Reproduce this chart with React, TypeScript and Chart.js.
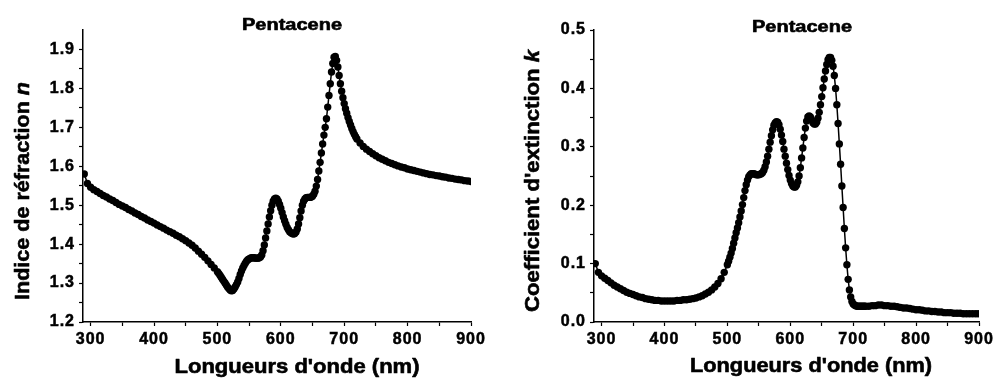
import React, { useEffect, useRef } from "react";
import { Chart, registerables } from "chart.js";

Chart.register(...registerables);

// ---------- data ----------
const WAVELENGTHS_NM = [
  290, 295, 300, 305, 310, 315, 320, 325, 330, 335,
  340, 345, 350, 355, 360, 365, 370, 375, 380, 385,
  390, 395, 400, 405, 410, 415, 420, 425, 430, 435,
  440, 445, 450, 455, 460, 465, 470, 475, 480, 485,
  490, 495, 500,
  502, 504, 506, 508, 510, 512, 514, 516, 518, 520,
  522, 524, 526, 528, 530, 532, 534, 536, 538, 540,
  542, 544, 546, 548, 550, 552, 554, 556, 558, 560,
  562, 564, 566, 568, 570, 572, 574, 576, 578, 580,
  582, 584, 586, 588, 590, 592, 594, 596, 598, 600,
  602, 604, 606, 608, 610, 612, 614, 616, 618, 620,
  622, 624, 626, 628, 630, 632, 634, 636, 638, 640,
  642, 644, 646, 648, 650, 652, 654, 656, 658, 660,
  662, 664, 666, 668, 670, 672, 674, 676, 678, 680,
  682, 684, 686, 688, 690, 692, 694, 696, 698, 700,
  702, 704, 706, 708, 710, 712, 714, 716, 718, 720,
  725, 730, 735, 740, 745, 750, 755, 760, 765, 770,
  775, 780, 785, 790, 795, 800, 805, 810, 815, 820,
  825, 830, 835, 840, 845, 850, 855, 860, 865, 870,
  875, 880, 885, 890, 895, 900,
];

const REFRACTIVE_INDEX_N = [
  1.580, 1.556, 1.546, 1.540, 1.535, 1.530, 1.525, 1.521, 1.516, 1.512,
  1.507, 1.502, 1.498, 1.494, 1.489, 1.485, 1.480, 1.476, 1.471, 1.467,
  1.462, 1.458, 1.454, 1.449, 1.445, 1.441, 1.436, 1.432, 1.428, 1.423,
  1.419, 1.414, 1.409, 1.403, 1.397, 1.390, 1.382, 1.374, 1.366, 1.357,
  1.348, 1.339, 1.329,
  1.325, 1.320, 1.315, 1.310, 1.305, 1.300, 1.295, 1.290, 1.286, 1.282,
  1.280, 1.281, 1.285, 1.290, 1.296, 1.303, 1.312, 1.322, 1.331, 1.339,
  1.345, 1.351, 1.356, 1.360, 1.362, 1.364, 1.365, 1.365, 1.365, 1.364,
  1.364, 1.364, 1.365, 1.367, 1.372, 1.383, 1.398, 1.416, 1.434, 1.452,
  1.470, 1.486, 1.500, 1.510, 1.516, 1.518, 1.516, 1.510, 1.502, 1.492,
  1.481, 1.470, 1.460, 1.451, 1.443, 1.437, 1.432, 1.429, 1.427, 1.426,
  1.427, 1.431, 1.439, 1.452, 1.468, 1.485, 1.500, 1.510, 1.516, 1.519,
  1.520, 1.520, 1.520, 1.521, 1.523, 1.528, 1.536, 1.549, 1.566, 1.588,
  1.610, 1.634, 1.657, 1.680, 1.700, 1.722, 1.752, 1.782, 1.812, 1.842,
  1.864, 1.880, 1.882, 1.872, 1.855, 1.833, 1.812, 1.793, 1.776, 1.761,
  1.748, 1.736, 1.725, 1.715, 1.706, 1.697, 1.689, 1.682, 1.676, 1.670,
  1.660, 1.651, 1.644, 1.638, 1.632, 1.627, 1.622, 1.618, 1.614, 1.610,
  1.607, 1.604, 1.601, 1.598, 1.596, 1.593, 1.591, 1.589, 1.587, 1.585,
  1.583, 1.581, 1.579, 1.578, 1.576, 1.575, 1.573, 1.572, 1.570, 1.569,
  1.567, 1.566, 1.565, 1.563, 1.562, 1.561,
];

const EXTINCTION_K = [
  0.100, 0.085, 0.079, 0.075, 0.071, 0.067, 0.063, 0.060, 0.057, 0.054,
  0.051, 0.049, 0.047, 0.045, 0.043, 0.042, 0.040, 0.039, 0.038, 0.037,
  0.037, 0.036, 0.036, 0.036, 0.036, 0.036, 0.037, 0.037, 0.038, 0.038,
  0.039, 0.040, 0.041, 0.043, 0.045, 0.048, 0.051, 0.055, 0.060, 0.066,
  0.074, 0.085, 0.098,
  0.104, 0.111, 0.118, 0.126, 0.135, 0.144, 0.153, 0.161, 0.170, 0.180,
  0.190, 0.201, 0.213, 0.225, 0.235, 0.243, 0.249, 0.252, 0.254, 0.254,
  0.254, 0.253, 0.252, 0.252, 0.252, 0.253, 0.254, 0.256, 0.260, 0.266,
  0.274, 0.284, 0.296, 0.308, 0.319, 0.329, 0.337, 0.341, 0.343, 0.342,
  0.338, 0.330, 0.320, 0.309, 0.296, 0.284, 0.272, 0.261, 0.251, 0.243,
  0.237, 0.233, 0.231, 0.231, 0.234, 0.240, 0.250, 0.264, 0.281, 0.298,
  0.316, 0.332, 0.344, 0.351, 0.353, 0.351, 0.346, 0.341, 0.339, 0.339,
  0.342, 0.349, 0.359, 0.372, 0.386, 0.401, 0.416, 0.430, 0.441, 0.449,
  0.453, 0.453, 0.448, 0.438, 0.422, 0.400, 0.372, 0.340, 0.305, 0.270,
  0.233, 0.196, 0.160, 0.127, 0.098, 0.073, 0.055, 0.043, 0.035, 0.031,
  0.029, 0.028, 0.027, 0.027, 0.027, 0.027, 0.027, 0.027, 0.027, 0.027,
  0.027, 0.028, 0.028, 0.029, 0.029, 0.028, 0.028, 0.027, 0.027, 0.026,
  0.025, 0.024, 0.024, 0.023, 0.022, 0.021, 0.021, 0.020, 0.019, 0.019,
  0.018, 0.018, 0.017, 0.017, 0.016, 0.016, 0.016, 0.015, 0.015, 0.015,
  0.014, 0.014, 0.014, 0.014, 0.014, 0.014,
];

const X_TICKS = [300, 350, 400, 450, 500, 550, 600, 650, 700, 750, 800, 850, 900];
const N_TICKS = [1.2, 1.25, 1.3, 1.35, 1.4, 1.45, 1.5, 1.55, 1.6, 1.65, 1.7, 1.75, 1.8, 1.85, 1.9];
const K_TICKS = [0, 0.05, 0.1, 0.15, 0.2, 0.25, 0.3, 0.35, 0.4, 0.45, 0.5];

const PANEL_TITLE = "Pentacene";
const X_TITLE = "Longueurs d'onde (nm)";
const N_TITLE = ["Indice de réfraction ", "n"];
const K_TITLE = ["Coefficient d'extinction ", "k"];

// ---------- helpers ----------
const FONT = "'Liberation Sans', Arial, sans-serif";

type Part = { text: string; font: string };

// draws text centred on (cx, cy) baseline, stretched along its direction to a target length
function drawStretched(
  ctx: CanvasRenderingContext2D,
  parts: Part[],
  cx: number,
  cy: number,
  angle: number,
  target: number
) {
  ctx.save();
  (ctx as any).letterSpacing = "0px";
  let natural = 0;
  for (const p of parts) {
    ctx.font = p.font;
    natural += ctx.measureText(p.text).width;
  }
  ctx.translate(cx, cy);
  ctx.rotate(angle);
  ctx.scale(target / natural, 1);
  ctx.textAlign = "left";
  ctx.textBaseline = "alphabetic";
  ctx.fillStyle = "#000";
  ctx.strokeStyle = "#000";
  ctx.lineWidth = 0.6;
  ctx.lineJoin = "round";
  let x = -natural / 2;
  for (const p of parts) {
    ctx.font = p.font;
    ctx.fillText(p.text, x, 0);
    ctx.strokeText(p.text, x, 0);
    x += ctx.measureText(p.text).width;
  }
  ctx.restore();
}

const textPlugin = {
  id: "panelText",
  beforeDraw(chart: any) {
    (chart.ctx as any).letterSpacing = "1px";
  },
  afterDraw(chart: any, _args: any, opts: any) {
    const ctx = chart.ctx as CanvasRenderingContext2D;
    drawStretched(ctx, [{ text: PANEL_TITLE, font: `bold 16px ${FONT}` }], opts.titleX, opts.titleY, 0, opts.titleW);
    drawStretched(ctx, [{ text: X_TITLE, font: `bold 20px ${FONT}` }], opts.xTitleX, opts.xTitleY, 0, opts.xTitleW);
    drawStretched(
      ctx,
      [
        { text: opts.yTitle[0], font: `bold 21px ${FONT}` },
        { text: opts.yTitle[1], font: `italic bold 21px ${FONT}` },
      ],
      opts.yTitleX,
      opts.yTitleY,
      -Math.PI / 2,
      opts.yTitleW
    );
  },
};

type PanelProps = {
  values: number[];
  yMin: number;
  yMax: number;
  yTicks: number[];
  yAxisWidth: number;
  padRight: number;
  text: any;
};

function Panel({ values, yMin, yMax, yTicks, yAxisWidth, padRight, text }: PanelProps) {
  const ref = useRef<HTMLCanvasElement>(null);

  useEffect(() => {
    if (!ref.current) return;
    const points = WAVELENGTHS_NM.map((x, i) => ({ x, y: values[i] }));
    const tickFont = { family: FONT, size: 16, weight: "bold" as const };
    const chart = new Chart(ref.current, {
      type: "line",
      data: {
        datasets: [
          {
            data: points,
            borderColor: "#000",
            borderWidth: 1.5,
            pointRadius: 3.7,
            pointBackgroundColor: "#000",
            pointBorderWidth: 0,
            tension: 0,
          },
        ],
      },
      options: {
        responsive: false,
        animation: false,
        events: [],
        layout: { padding: { top: 30, right: padRight, left: 0, bottom: 0 } },
        plugins: {
          legend: { display: false },
          tooltip: { enabled: false },
          panelText: text,
        } as any,
        scales: {
          x: {
            type: "linear",
            min: 288,
            max: 900,
            afterBuildTicks: (s: any) => {
              s.ticks = X_TICKS.map((v) => ({ value: v }));
            },
            afterFit: (s: any) => {
              s.height = 56;
              s.paddingLeft = 0;
              s.paddingRight = 0;
            },
            grid: { drawOnChartArea: false, drawTicks: true, tickLength: 4, tickColor: "#000", tickWidth: 1.2 },
            border: { display: true, color: "#000", width: 1.5 },
            ticks: {
              color: "#000",
              font: tickFont,
              padding: 4,
              maxRotation: 0,
              autoSkip: false,
              textStrokeColor: "#000",
              textStrokeWidth: 0.5,
              callback: (v: any) => (Math.round(v) % 100 === 0 ? String(Math.round(v)) : ""),
            },
          },
          y: {
            type: "linear",
            min: yMin,
            max: yMax,
            afterBuildTicks: (s: any) => {
              s.ticks = yTicks.map((v) => ({ value: v }));
            },
            afterFit: (s: any) => {
              s.width = yAxisWidth;
              s.paddingTop = 0;
              s.paddingBottom = 0;
            },
            grid: { drawOnChartArea: false, drawTicks: true, tickLength: 4, tickColor: "#000", tickWidth: 1.2 },
            border: { display: true, color: "#000", width: 1.5 },
            ticks: {
              color: "#000",
              font: tickFont,
              padding: 4,
              autoSkip: false,
              textStrokeColor: "#000",
              textStrokeWidth: 0.5,
              callback: (v: any) => (Math.round(v * 20) % 2 === 0 ? Number(v).toFixed(1) : ""),
            },
          },
        },
      },
      plugins: [textPlugin as any],
    });
    return () => chart.destroy();
  }, []);

  return <canvas ref={ref} width={497} height={378} style={{ width: 497, height: 378, display: "block" }} />;
}

export default function App() {
  return (
    <div
      style={{
        position: "fixed",
        left: 0,
        top: 0,
        width: 994,
        height: 378,
        background: "#fff",
        display: "flex",
      }}
    >
      <Panel
        values={REFRACTIVE_INDEX_N}
        yMin={1.2}
        yMax={1.95}
        yTicks={N_TICKS}
        yAxisWidth={83}
        padRight={26}
        text={{
          titleX: 292, titleY: 30, titleW: 100,
          xTitleX: 297, xTitleY: 373, xTitleW: 245,
          yTitle: N_TITLE, yTitleX: 29, yTitleY: 191, yTitleW: 218,
        }}
      />
      <Panel
        values={EXTINCTION_K}
        yMin={0}
        yMax={0.5}
        yTicks={K_TICKS}
        yAxisWidth={97}
        padRight={15}
        text={{
          titleX: 305, titleY: 32, titleW: 100,
          xTitleX: 314, xTitleY: 372, xTitleW: 242,
          yTitle: K_TITLE, yTitleX: 42, yTitleY: 181, yTitleW: 262,
        }}
      />
    </div>
  );
}
